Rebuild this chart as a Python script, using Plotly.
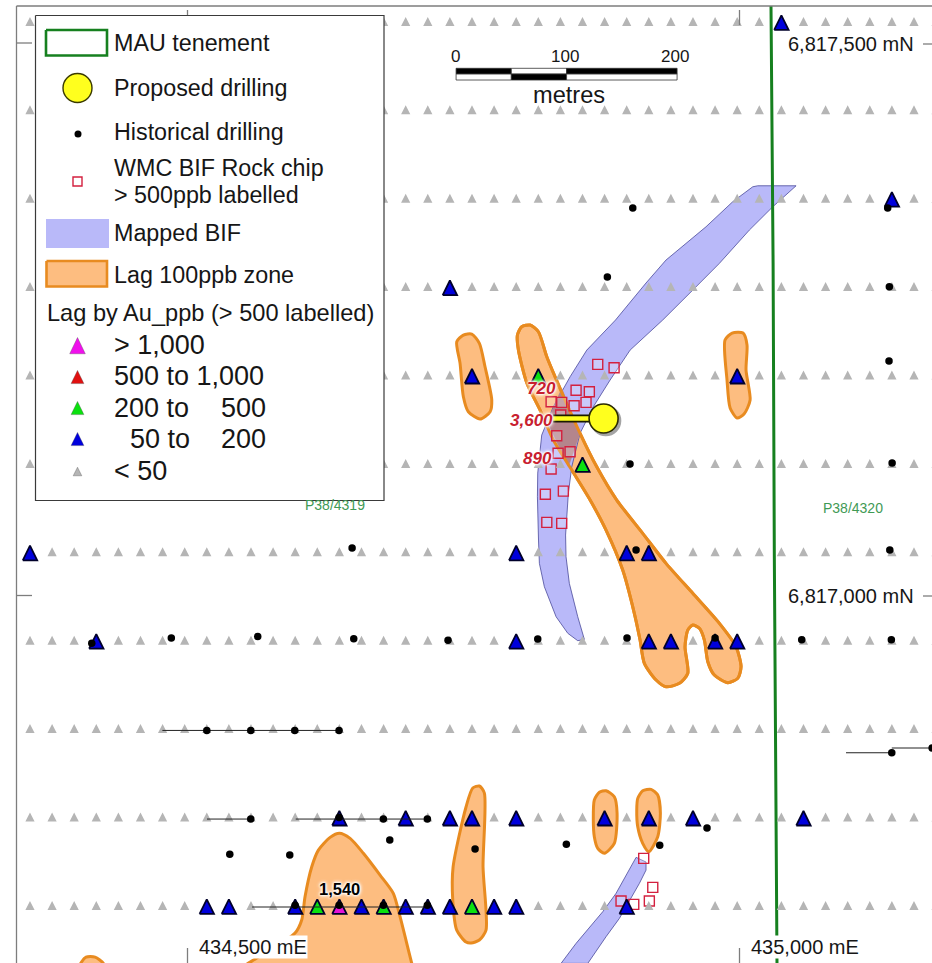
import plotly.graph_objects as go

# Local grid: metres east of 434,000 mE and metres north of 6,817,000 mN
WIDTH, HEIGHT = 932, 963
M_PER_PX = 1 / 1.105
E_LEFT = 329.86
N_TOP = 539.82

LAG_STATIONS_E = [357, 377, 397, 417, 437, 457, 477, 497, 517, 537, 557, 577, 597, 617,
                  637, 657, 677, 697, 717, 737, 757, 777, 797, 817, 837, 857, 877, 897,
                  917, 937, 957, 977, 997, 1017, 1037, 1057, 1077, 1097, 1117, 1137, 1157, 1177]
LAG_LINES_N = [520, 440, 360, 280, 200, 120, 40, -40, -120, -200, -280]

LAG_50_200_E = [1037, 1137, 737, 757, 997, 357, 797, 897, 917, 417, 797, 917, 937, 977, 997,
                637, 697, 737, 757, 797, 877, 917, 957, 1057,
                517, 537, 597, 657, 697, 717, 737, 777, 797, 897]
LAG_50_200_N = [520, 360, 280, 200, 200, 40, 40, 40, 40, -40, -40, -40, -40, -40, -40,
                -200, -200, -200, -200, -200, -200, -200, -200, -200,
                -280, -280, -280, -280, -280, -280, -280, -280, -280, -280]
LAG_200_500_E = [817, 857, 617, 677, 757]
LAG_200_500_N = [200, 120, -280, -280, -280]
LAG_OVER_1000_E = [637]
LAG_OVER_1000_N = [-280]

HIST_E = [902.5, 879.5, 1133.2, 1134.7, 1134.4, 1137.2, 900, 1135.1, 905.5, 648.5, 1055.4, 1136.5,
          816.5, 897.3, 977, 484.9, 563.1, 650, 735.3, 412.9, 517, 556.8, 596.6, 636.7,
          556.8, 636.7, 676.8, 716.6, 596.9, 636.7, 676.8, 716.6,
          537.8, 592.1, 682.6, 759.8, 842.4, 926.9, 969.7, 1136.9, 1173.4]
HIST_N = [351.6, 289.1, 351.6, 280.3, 213.1, 120.8, 119.9, 42, 42, 43.9, -39.1, -39.1,
          -38.5, -37.6, -37.6, -37.6, -36.1, -38.2, -39.7, -42.4, -121.2, -121.2, -121.2, -121.2,
          -201.4, -200, -201.4, -201.4, -279.5, -279.5, -279.5, -279.5,
          -233.3, -234, -220.4, -228.5, -224.3, -225.2, -209.5, -141.4, -137.1]
HOLE_TRACE_E = [476.8, 636.7, None, 517.2, 556.8, None, 597.5, 716.6, None, 558, 716.6, None,
                1095.5, 1136.9, None, 1136.9, 1173.4]
HOLE_TRACE_N = [-121.2, -121.2, None, -201.4, -201.4, None, -201.4, -201.4, None, -281, -281, None,
                -141.4, -141.4, None, -137.1, -137.1]

CHIP_E = [870.8, 885.6, 851.2, 863.2, 860.2, 849.4, 828.6, 838.2, 837.3, 833.7, 845.8, 834.9,
          828.6, 839.7, 823.4, 824.7, 838.2, 912.4, 920.6, 917.5, 903.4, 891.9]
CHIP_N = [210.1, 207, 186.6, 185.3, 175.7, 172.6, 176.3, 175.7, 164.2, 145.5, 131, 129.6,
          115.4, 95.4, 92.5, 67.1, 66.2, -237, -263.2, -275.6, -278.6, -275.6]

ASSAY_TEXT = ["720", "3,600", "890"]
ASSAY_E = [820.3, 811, 816.4]
ASSAY_N = [188.5, 159.5, 125]
LAG_LABEL = ["1,540"]
LAG_LABEL_E = [637]
LAG_LABEL_N = [-264.5]

COLLAR_E = [876.1]
COLLAR_N = [161.1]
DRILL_E = [830.4, 876.1]
DRILL_N = [161.1, 161.1]

TENEMENT_E = [1027.6, 1028.3, 1029.5, 1030.6, 1031.7, 1033.1]
TENEMENT_N = [534.4, 437.5, 301.8, 37.5, -93.7, -342.6]

BIF_NORTH_E = [1050.3, 1015.6, 1011.1, 993, 968.8, 932.6, 914.5, 886.9, 860.9, 845.8, 830.6, 820.1,
               816.5, 816.2, 817.2, 818, 822.5, 833.1, 843.7, 852.7, 858.7, 852.7, 845.1, 842.1,
               841.7, 844.2, 847.3, 854.8, 866.8, 882, 900.1, 929.6, 956.8, 980.9, 1008, 1029.2, 1050.3]
BIF_NORTH_N = [371.7, 371.7, 370.8, 357.3, 334.6, 304.5, 283.7, 250.2, 223, 198.9, 171.7, 146.1,
               111.7, 90.3, 51.1, 30, 8.8, -18.3, -33.3, -40, -38.8, -18.3, 11.9, 36,
               55.6, 93.4, 117.4, 147.7, 171.7, 195.9, 223, 250.2, 277.3, 301.5, 331.6, 352.7, 371.7]
BIF_SOUTH_E = [905.5, 914.5, 914.5, 908.5, 890.4, 878.3, 861.8, 837.6, 851.2, 875.3, 887.4, 899.4, 905.5]
BIF_SOUTH_N = [-236.1, -240.3, -247.6, -259.6, -291.3, -307.9, -332, -332, -313.9, -285.3, -268.6, -247.6, -236.1]

ZONE_A_E = [743.2, 749.2, 756.8, 763.7, 768.8, 774.9, 773.4, 764.3, 753.7, 749.2, 746.2, 743.2]
ZONE_A_N = [230.6, 236.6, 237.5, 229.1, 207.9, 177.8, 167.2, 160.6, 167.2, 180.8, 211, 230.6]
ZONE_B_E = [798.1, 802, 809.6, 817.1, 824.7, 836.7, 854.8, 869.9, 888, 911.5, 932.6, 956.8, 980.9, 996,
            1000.5, 997.5, 988.5, 976.3, 970.4, 967.3, 962.8, 956.8, 952.3, 949.8, 952.3, 944.7, 932.6,
            923.6, 913, 909.1, 903.9, 893.4, 878.3, 863.9, 847.3, 830.6, 818.6, 806.6, 799, 798.1]
ZONE_B_N = [236.6, 244.1, 245.7, 239.6, 217, 188.4, 147.7, 117.4, 87.3, 57.2, 30, 2.9, -24.3, -45.5,
            -63.6, -74.1, -78, -71.1, -59, -39.4, -28.8, -25.8, -30.4, -45.5, -69.5, -78.6, -81.7,
            -75.6, -60.5, -39.4, -15.2, 23.9, 60.1, 87.3, 114.4, 141.6, 168.7, 193.2, 223, 236.6]
ZONE_C_E = [986, 992.4, 1002.3, 1005.9, 1005, 1008.7, 1003.2, 996.9, 990.6, 987.8, 986]
ZONE_C_N = [232.1, 238.4, 238.4, 227.6, 204.9, 177.8, 165.1, 161.5, 170.6, 195.9, 232.1]
ZONE_D_E = [757.7, 763.7, 768.2, 767, 769.7, 763.7, 756.2, 751.6, 743.2, 739.6, 739.9, 751.6, 757.7]
ZONE_D_N = [-173.3, -171.5, -177.9, -244.6, -301.9, -310.9, -313.6, -312.7, -301.9, -274.7, -244.8, -190.5, -173.3]
ZONE_E_E = [867.7, 872.3, 878.3, 885.8, 888.3, 885.8, 876.8, 870.8, 867.7, 866.8, 867.7]
ZONE_E_N = [-184.2, -177.2, -175.8, -181.2, -196.2, -223.4, -232.4, -227.9, -217.4, -202.3, -184.2]
ZONE_F_E = [907, 911.5, 919.1, 925.1, 927.5, 925.1, 917, 911.5, 907, 906.1, 907]
ZONE_F_N = [-182.7, -175.8, -174.5, -179.7, -196.2, -217.4, -231, -223.4, -208.4, -193.2, -182.7]
ZONE_G_E = [547.1, 562.2, 596.9, 602.9, 605.9, 612, 618, 628.6, 637, 646.7, 658.7, 673.8, 685.8, 691.9, 702.5, 705.5, 547.1]
ZONE_G_N = [-338.1, -327.2, -304.6, -292.8, -271.7, -244.6, -229.5, -218, -214.3, -218.9, -232.4, -252.1, -268.6, -289.8, -332, -342.6, -338.1]
ZONE_H_E = [398.7, 403.8, 407.7, 415.9, 423.4, 427.6, 398.7]
ZONE_H_N = [-342.6, -330.5, -326.3, -326.3, -332, -342.6, -342.6]
OVERLAP_E = [838.2, 854.8, 844.2, 825.2, 838.2]
OVERLAP_N = [188.4, 147.7, 117.4, 158.2, 188.4]

SCALE_ORIGIN_E, SCALE_TOP_N, SCALE_MID_N, SCALE_BOTTOM_N = 742.6, 478, 472.8, 467.4
SCALE_TICKS_M = [0, 50, 100, 200]
SCALE_LABELS = ["0", "100", "200"]

ORANGE_FILL, ORANGE_LINE = "#fdbd80", "#e88b20"
BIF_FILL, BIF_LINE = "#b9b9f9", "#4a4a9a"
GREEN_LINE = "#16801f"
CHIP_RED = "#d3203f"
GREY = "#b5b5b5"
BLUE, GREEN, MAGENTA, RED = "#0000dc", "#0be00f", "#e412d8", "#e01010"
EDGE = "#00002a"
TEXT = "#161616"
FONT = "Liberation Sans"

fig = go.Figure()


def tri(es, ns, half, up, down):
    xs, ys = [], []
    for e, n in zip(es, ns):
        xs += [e - half, e + half, e, e - half, None]
        ys += [n - down, n - down, n + up, n - down, None]
    return xs, ys


def poly(es, ns, fill, line, width, smooth=False):
    fig.add_trace(go.Scatter(x=es, y=ns, mode="lines", fill="toself", fillcolor=fill,
                             line=dict(color=line, width=width, shape="spline" if smooth else "linear",
                                       smoothing=0.7)))


# lag anomaly zones, mapped BIF and their overlap
ZONES = [(ZONE_A_E, ZONE_A_N), (ZONE_B_E, ZONE_B_N), (ZONE_C_E, ZONE_C_N), (ZONE_D_E, ZONE_D_N),
         (ZONE_E_E, ZONE_E_N), (ZONE_F_E, ZONE_F_N), (ZONE_G_E, ZONE_G_N), (ZONE_H_E, ZONE_H_N)]
for ze, zn in ZONES:
    poly(ze, zn, ORANGE_FILL, ORANGE_LINE, 3, True)
poly(BIF_NORTH_E, BIF_NORTH_N, BIF_FILL, BIF_LINE, 0.8)
poly(BIF_SOUTH_E, BIF_SOUTH_N, BIF_FILL, BIF_LINE, 0.8)
poly(OVERLAP_E, OVERLAP_N, "#b4858c", "#b4858c", 0.5)
fig.add_trace(go.Scatter(x=ZONE_B_E, y=ZONE_B_N, mode="lines",
                         line=dict(color=ORANGE_LINE, width=3, shape="spline", smoothing=0.7)))

# tenement boundary
fig.add_trace(go.Scatter(x=TENEMENT_E, y=TENEMENT_N, mode="lines", line=dict(color=GREEN_LINE, width=3)))

# rock chips
fig.add_trace(go.Scatter(x=CHIP_E, y=CHIP_N, mode="markers",
                         marker=dict(symbol="square", size=10, color="rgba(255,255,255,0.25)",
                                     line=dict(color=CHIP_RED, width=1.4))))

# lag samples below 50 ppb
anomalies = set(zip(LAG_50_200_E + LAG_200_500_E + LAG_OVER_1000_E,
                    LAG_50_200_N + LAG_200_500_N + LAG_OVER_1000_N))
low_e, low_n = [], []
for n in LAG_LINES_N:
    for e in LAG_STATIONS_E:
        if (e, n) not in anomalies:
            low_e.append(e)
            low_n.append(n)
gx, gy = tri(low_e, low_n, 4.6 * M_PER_PX, 5.0 * M_PER_PX, 4.0 * M_PER_PX)
fig.add_trace(go.Scatter(x=gx, y=gy, mode="lines", fill="toself", fillcolor=GREY, line=dict(width=0, color=GREY)))

# anomalous lag samples
for es, ns, colour in [(LAG_50_200_E, LAG_50_200_N, BLUE), (LAG_200_500_E, LAG_200_500_N, GREEN),
                       (LAG_OVER_1000_E, LAG_OVER_1000_N, MAGENTA)]:
    tx, ty = tri(es, ns, 7.2 * M_PER_PX, 6.6 * M_PER_PX, 8.0 * M_PER_PX)
    fig.add_trace(go.Scatter(x=tx, y=ty, mode="lines", fill="toself", fillcolor=colour,
                             line=dict(color=EDGE, width=1.8)))

# historical drilling
fig.add_trace(go.Scatter(x=HOLE_TRACE_E, y=HOLE_TRACE_N, mode="lines", line=dict(color="#222222", width=1)))
fig.add_trace(go.Scatter(x=HIST_E, y=HIST_N, mode="markers", marker=dict(size=7.5, color="black")))

# proposed drilling
fig.add_trace(go.Scatter(x=DRILL_E, y=DRILL_N, mode="lines", line=dict(color="#1a1a00", width=8)))
fig.add_trace(go.Scatter(x=DRILL_E, y=DRILL_N, mode="lines", line=dict(color="#ffff1e", width=4.5)))
fig.add_trace(go.Scatter(x=[e + 2 for e in COLLAR_E], y=[n - 2 for n in COLLAR_N], mode="markers",
                         marker=dict(size=31, color="rgba(90,90,90,0.55)")))
fig.add_trace(go.Scatter(x=COLLAR_E, y=COLLAR_N, mode="markers",
                         marker=dict(size=29, color="#ffff1e", line=dict(color="#2a2a00", width=1.6))))

# ---- legend panel: overlay subplot in page pixels ----
def lg(xs, ys, fill, line, width):
    fig.add_trace(go.Scatter(x=xs, y=ys, xaxis="x2", yaxis="y2", mode="lines", fill="toself", fillcolor=fill,
                             line=dict(color=line, width=width)))


lg([35.5, 384, 384, 35.5, 35.5], [15.5, 15.5, 500.5, 500.5, 15.5], "white", "#3a3a3a", 1.2)
lg([46, 107, 107, 46, 46], [30, 30, 55.5, 55.5, 30], "white", GREEN_LINE, 2.6)
lg([46, 109, 109, 46, 46], [219, 219, 248, 248, 219], BIF_FILL, BIF_FILL, 0)
lg([46.5, 107, 107, 46.5, 46.5], [261, 261, 286.5, 286.5, 261], ORANGE_FILL, ORANGE_LINE, 2.6)
for (cx, cy, hw, up, dn, colour) in [(77.5, 347, 7.8, 9.5, 6.8, "#f010ec"), (77.5, 378, 6.4, 7.6, 5.6, RED),
                                     (77.5, 409, 6.4, 7.6, 5.6, GREEN), (77.5, 440, 6.4, 7.6, 5.6, BLUE),
                                     (77.5, 472, 4.3, 4.8, 3.8, GREY)]:
    lx, ly = tri([cx], [cy], hw, -up, -dn)
    lg(lx, ly, colour, "rgba(70,70,70,0.55)", 0.6)
fig.add_trace(go.Scatter(x=[77.5], y=[88], xaxis="x2", yaxis="y2", mode="markers",
                         marker=dict(size=29, color="#ffff1e", line=dict(color="#3a3a00", width=1.4))))
fig.add_trace(go.Scatter(x=[78], y=[134], xaxis="x2", yaxis="y2", mode="markers", marker=dict(size=7, color="black")))
fig.add_trace(go.Scatter(x=[77.5], y=[181.5], xaxis="x2", yaxis="y2", mode="markers",
                         marker=dict(symbol="square", size=9, color="white", line=dict(color=CHIP_RED, width=1.4))))

annotations = []


def note(x, y, text, size, xanchor="left", colour=TEXT, ref="2", **kw):
    font = dict(family=FONT, size=size, color=colour)
    font.update(kw.pop("font", {}))
    annotations.append(dict(x=x, y=y, xref="x" + ref, yref="y" + ref, text=text, showarrow=False,
                            xanchor=xanchor, yanchor="middle", font=font, borderpad=0, **kw))


LEGEND_TEXT = [("MAU tenement", 43), ("Proposed drilling", 88), ("Historical drilling", 132),
               ("WMC BIF Rock chip", 168), ("> 500ppb labelled", 195), ("Mapped BIF", 233), ("Lag 100ppb zone", 275)]
for label, y in LEGEND_TEXT:
    note(113, y, label, 23.3)
note(46, 313, "Lag by Au_ppb (> 500 labelled)", 23.6)
note(113, 345, "> 1,000", 27)
note(113, 376, "500 to 1,000", 27)
note(113, 408, "200 to", 27)
note(267, 408, "500", 27, "right")
note(129, 439, "50 to", 27)
note(267, 439, "200", 27, "right")
note(113, 471, "< 50", 27)

# grid labels
note(915, 44, "6,817,500 mN", 20, "right")
note(915, 596, "6,817,000 mN", 20, "right")
note(198, 947, "434,500 mE", 20, bgcolor="white")
note(750, 947, "435,000 mE", 20, bgcolor="white")
note(334.5, 505, "P38/4319", 14, "center", "#3f9a55")
note(852.5, 508, "P38/4320", 14, "center", "#3f9a55")

# assay labels
HALO = "0 0 4px white, 0 0 4px white, 0 0 3px white, 0 0 2px white, 0 0 2px white"
for t, e, n in zip(ASSAY_TEXT, ASSAY_E, ASSAY_N):
    note(e, n, t, 17, "center", "#c8202f", ref="", font=dict(style="italic", weight="bold", shadow=HALO))
for t, e, n in zip(LAG_LABEL, LAG_LABEL_E, LAG_LABEL_N):
    note(e, n, t, 16.5, "center", "black", ref="", font=dict(weight="bold", shadow=HALO))

# scale bar
for i in range(len(SCALE_TICKS_M) - 1):
    a, b = SCALE_ORIGIN_E + SCALE_TICKS_M[i], SCALE_ORIGIN_E + SCALE_TICKS_M[i + 1]
    upper, lower = ("black", "white") if i != 1 else ("white", "black")
    for top, bot, colour in [(SCALE_TOP_N, SCALE_MID_N, upper), (SCALE_MID_N, SCALE_BOTTOM_N, lower)]:
        fig.add_shape(type="rect", x0=a, x1=b, y0=bot, y1=top, xref="x", yref="y", layer="above",
                      fillcolor=colour, line=dict(color="#333333", width=0.8))
for label, px in zip(SCALE_LABELS, [455, 565, 675]):
    note(px, 56, label, 17, "center")
note(569, 94.5, "metres", 23.6, "center")

# map frame and grid ticks, in page pixels
frame = [(16.5, 963, 16.5, 6), (16.5, 6, 932, 6), (17, 43, 32, 43), (17, 595.5, 32, 595.5),
         (923, 44, 932, 44), (923, 596, 932, 596), (187.5, 10, 187.5, 15), (739.5, 10, 739.5, 25),
         (187.5, 948, 187.5, 963), (739.5, 948, 739.5, 963)]
for x0, y0, x1, y1 in frame:
    fig.add_shape(type="line", x0=x0, y0=y0, x1=x1, y1=y1, xref="x2", yref="y2", layer="above",
                  line=dict(color="#7d7d7d", width=1.3))

fig.update_layout(
    width=WIDTH, height=HEIGHT, margin=dict(l=0, r=0, t=0, b=0), autosize=False,
    paper_bgcolor="white", plot_bgcolor="white", showlegend=False, annotations=annotations,
    hovermode=False,
    xaxis=dict(range=[E_LEFT, E_LEFT + WIDTH * M_PER_PX], visible=False, fixedrange=True, domain=[0, 1]),
    yaxis=dict(range=[N_TOP - HEIGHT * M_PER_PX, N_TOP], visible=False, fixedrange=True, domain=[0, 1]),
    xaxis2=dict(range=[0, WIDTH], visible=False, fixedrange=True, overlaying="x", anchor="y2"),
    yaxis2=dict(range=[HEIGHT, 0], visible=False, fixedrange=True, overlaying="y", anchor="x2"),
)

fig.write_html("out.html", config={"displayModeBar": False},
               post_script="document.body.style.margin='0';document.documentElement.style.overflow='hidden';")
